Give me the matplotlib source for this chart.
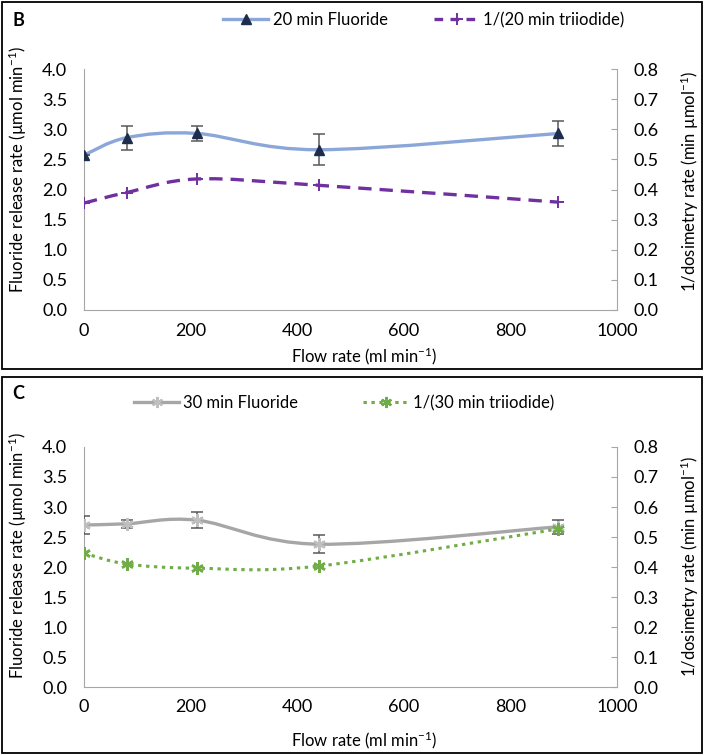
import numpy as np
import matplotlib
matplotlib.use("Agg")
import matplotlib.pyplot as plt
from matplotlib.path import Path
from matplotlib.patches import PathPatch, Rectangle
from matplotlib.lines import Line2D

plt.rcParams['font.family'] = ['Lato', 'DejaVu Sans']
plt.rcParams['mathtext.default'] = 'regular'

# ---- data ----
flow = [0, 80, 212, 440, 890]

fluor20 = [2.57, 2.86, 2.93, 2.66, 2.93]
fluor20_err = [0.0, 0.20, 0.13, 0.26, 0.20]
inv_tri20 = [0.355, 0.39, 0.435, 0.414, 0.358]

fluor30 = [2.70, 2.72, 2.78, 2.38, 2.67]
fluor30_err = [0.15, 0.07, 0.13, 0.15, 0.12]
inv_tri30 = [0.446, 0.41, 0.396, 0.403, 0.527]

xticks = [0, 200, 400, 600, 800, 1000]
yticks_left = [0.0, 0.5, 1.0, 1.5, 2.0, 2.5, 3.0, 3.5, 4.0]
yticks_right = [0.0, 0.1, 0.2, 0.3, 0.4, 0.5, 0.6, 0.7, 0.8]

W, H = 704, 755
fig = plt.figure(figsize=(W / 100, H / 100), dpi=100)


def smooth_path(x, y):
    """Excel-like smoothed line: Catmull-Rom converted to cubic Bezier."""
    p = np.column_stack([x, y]).astype(float)
    n = len(p)
    verts = [p[0]]
    codes = [Path.MOVETO]
    for i in range(n - 1):
        p0 = p[i - 1] if i > 0 else p[i]
        p1 = p[i]
        p2 = p[i + 1]
        p3 = p[i + 2] if i + 2 < n else p[i + 1]
        c1 = p1 + (p2 - p0) / 6.0
        c2 = p2 - (p3 - p1) / 6.0
        verts += [c1, c2, p2]
        codes += [Path.CURVE4] * 3
    return Path(verts, codes)


GRAY = '#a6a6a6'
TICK_FS = 13
LAB_FS = 12


def make_axes(top_px, bottom_px, left_lab_y, right_lab_y):
    left_px, right_px = 84, 617
    ax = fig.add_axes([left_px / W, 1 - bottom_px / H,
                       (right_px - left_px) / W, (bottom_px - top_px) / H])
    ax2 = ax.twinx()
    ax.set_xlim(0, 1000)
    ax.set_ylim(0, 4.0)
    ax2.set_ylim(0, 0.8)
    ax.set_xticks(xticks)
    ax.set_xticklabels([str(t) for t in xticks])
    ax.set_yticks(yticks_left)
    ax.set_yticklabels([f"{t:.1f}" for t in yticks_left])
    ax2.set_yticks(yticks_right)
    ax2.set_yticklabels([f"{t:.1f}" for t in yticks_right])
    for a in (ax, ax2):
        for s in a.spines.values():
            s.set_visible(False)
            s.set_color(GRAY)
    ax.spines['left'].set_visible(True)
    ax.spines['bottom'].set_visible(True)
    ax2.spines['right'].set_visible(True)
    ax.tick_params(axis='both', length=0, labelsize=TICK_FS, colors='black')
    ax.tick_params(axis='y', pad=12)
    ax.tick_params(axis='x', pad=9)
    ax2.tick_params(axis='y', length=4, direction='in', color=GRAY,
                    labelsize=TICK_FS, pad=12, labelcolor='black')
    ax.patch.set_visible(False)
    fig.text(18 / W, 1 - left_lab_y / H, 'Fluoride release rate (µmol min$^{-1}$)',
             rotation=90, ha='center', va='center', fontsize=LAB_FS)
    fig.text(690 / W, 1 - right_lab_y / H, '1/dosimetry rate (min µmol$^{-1}$)',
             rotation=90, ha='center', va='center', fontsize=LAB_FS)
    return ax, ax2


# ---------------- Panel B ----------------
axB, axB2 = make_axes(69, 310, 170, 182)
c_fl20 = '#8ba7d9'
c_mk20 = '#1f2d4d'
c_tri20 = '#7030a0'
axB.add_patch(PathPatch(smooth_path(flow, fluor20), fill=False,
                        edgecolor=c_fl20, lw=2.4, zorder=2))
axB.errorbar(flow, fluor20, yerr=fluor20_err, fmt='none', ecolor='#595959',
             elinewidth=1.1, capsize=4.5, capthick=1.1, zorder=3)
axB.plot(flow, fluor20, linestyle='none', marker='^', ms=7.5,
         mfc=c_mk20, mec=c_mk20, zorder=4)
axB2.add_patch(PathPatch(smooth_path(flow, inv_tri20), fill=False,
                         edgecolor=c_tri20, lw=2.4, linestyle=(0, (4, 2.4)),
                         zorder=2))
axB2.plot(flow, inv_tri20, linestyle='none', marker='+', ms=9, mew=1.4,
          color=c_tri20, zorder=4)
hB = [Line2D([], [], color=c_fl20, lw=2.4, marker='^', ms=6.5, mfc=c_mk20, mec=c_mk20),
      Line2D([], [], color=c_tri20, lw=2.4, ls=(0, (2.6, 2.2)), marker='+', ms=8, mew=1.4)]
fig.legend(hB, ['20 min Fluoride', '1/(20 min triiodide)'], loc='center',
           bbox_to_anchor=(424 / W, 1 - 20 / H), ncol=2, frameon=False,
           fontsize=LAB_FS, handlelength=2.7, columnspacing=2.8, handletextpad=0.25)
fig.text(364 / W, 1 - 356 / H, 'Flow rate (ml min$^{-1}$)', ha='center',
         va='center', fontsize=LAB_FS)
fig.text(12 / W, 1 - 20 / H, 'B', ha='left', va='center', fontsize=13,
         fontweight='bold')

# ---------------- Panel C ----------------
axC, axC2 = make_axes(447, 687, 556, 567)
c_fl30 = '#a6a6a6'
c_mk30 = '#bfbfbf'
c_tri30 = '#70ad47'
star = (6, 2, 0)
axC.add_patch(PathPatch(smooth_path(flow, fluor30), fill=False,
                        edgecolor=c_fl30, lw=2.4, zorder=2))
axC.errorbar(flow, fluor30, yerr=fluor30_err, fmt='none', ecolor='#595959',
             elinewidth=1.1, capsize=4.5, capthick=1.1, zorder=3)
axC.plot(flow, fluor30, linestyle='none', marker=star, ms=9, mew=1.6,
         color=c_mk30, zorder=4)
axC2.add_patch(PathPatch(smooth_path(flow, inv_tri30), fill=False,
                         edgecolor=c_tri30, lw=2.2, linestyle=(0, (1.1, 1.5)),
                         capstyle='butt', zorder=2))
axC2.plot(flow, inv_tri30, linestyle='none', marker=star, ms=9, mew=1.8,
          color=c_tri30, zorder=4)
hC = [Line2D([], [], color=c_fl30, lw=2.4, marker=star, ms=8, mew=1.5, mec=c_mk30),
      Line2D([], [], color=c_tri30, lw=2.2, ls=(0, (1.1, 1.5)), marker=star, ms=8, mew=1.6)]
fig.legend(hC, ['30 min Fluoride', '1/(30 min triiodide)'], loc='center',
           bbox_to_anchor=(344 / W, 1 - 403 / H), ncol=2, frameon=False,
           fontsize=LAB_FS, handlelength=2.7, columnspacing=3.9, handletextpad=0.25)
fig.text(364 / W, 1 - 740 / H, 'Flow rate (ml min$^{-1}$)', ha='center',
         va='center', fontsize=LAB_FS)
fig.text(12 / W, 1 - 394 / H, 'C', ha='left', va='center', fontsize=13,
         fontweight='bold')

# panel borders
fig.add_artist(Rectangle((2 / W, 1 - 369 / H), 700 / W, 367 / H,
                         transform=fig.transFigure, fill=False,
                         edgecolor='black', lw=1.3))
fig.add_artist(Rectangle((2 / W, 1 - 753 / H), 700 / W, 376 / H,
                         transform=fig.transFigure, fill=False,
                         edgecolor='black', lw=1.3))

fig.savefig('out.png', dpi=100, facecolor='white')
